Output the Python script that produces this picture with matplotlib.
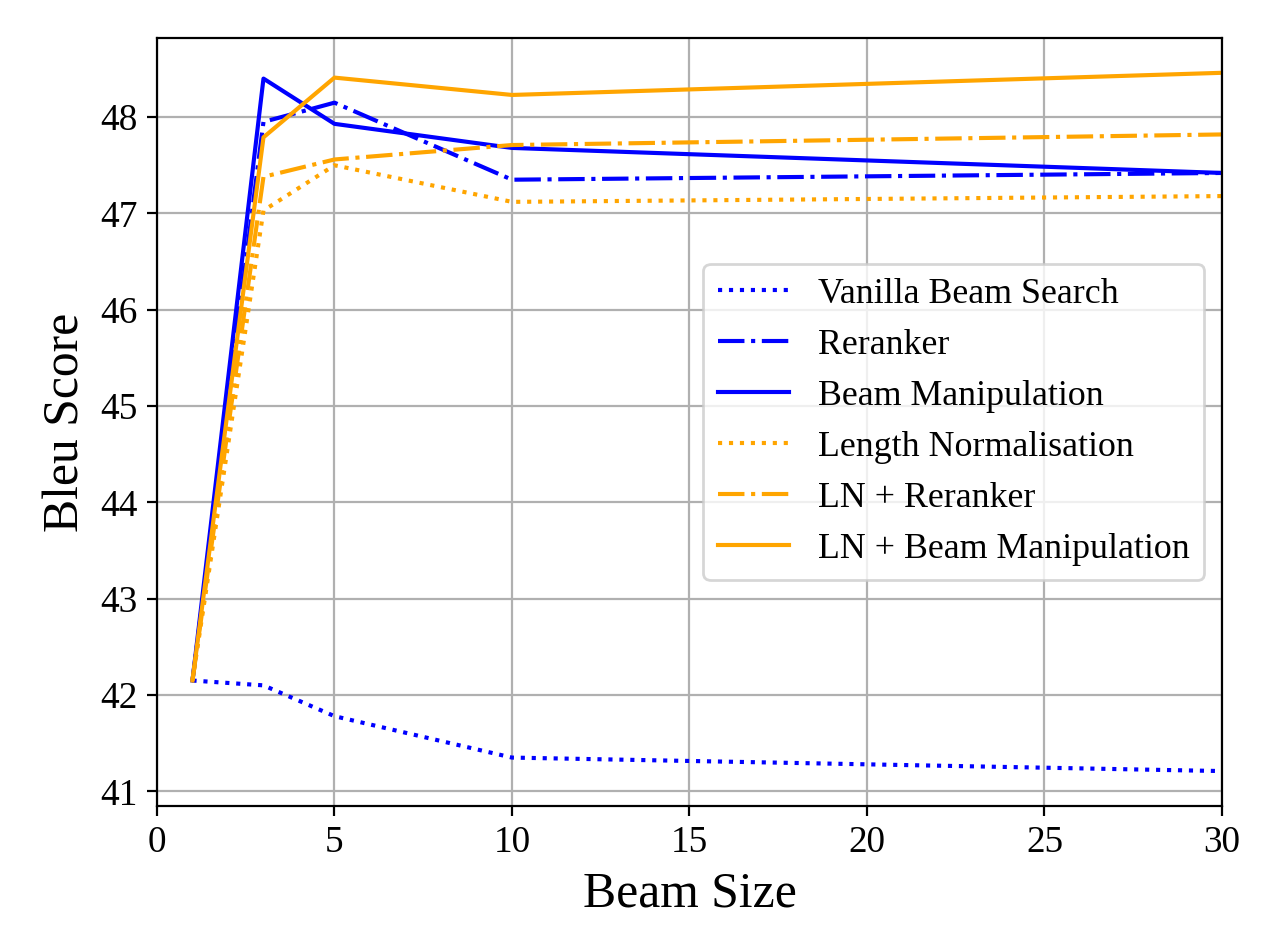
import matplotlib
matplotlib.use("Agg")
from matplotlib import pyplot as plt

beam_sizes = [1, 3, 5, 10, 30]

vanilla = [42.15, 42.10, 41.78, 41.35, 41.21]
reranker = [42.15, 47.95, 48.15, 47.35, 47.42]
beam_manip = [42.15, 48.40, 47.93, 47.68, 47.42]
length_norm = [42.15, 47.03, 47.50, 47.12, 47.18]
ln_reranker = [42.15, 47.38, 47.56, 47.71, 47.82]
ln_beam_manip = [42.15, 47.79, 48.41, 48.23, 48.46]

plt.rcParams['font.family'] = ['Liberation Serif', 'DejaVu Serif']

fig = plt.figure(figsize=(6.4, 4.7775), dpi=198.4375)
ax = fig.add_axes([0.1236, 0.1498, 0.8386, 0.8102])

ax.plot(beam_sizes, vanilla, "b:", label="Vanilla Beam Search")
ax.plot(beam_sizes, reranker, "b-.", label="Reranker")
ax.plot(beam_sizes, beam_manip, "b-", label="Beam Manipulation")
ax.plot(beam_sizes, length_norm, ":", color="orange", label="Length Normalisation")
ax.plot(beam_sizes, ln_reranker, "-.", color="orange", label="LN + Reranker")
ax.plot(beam_sizes, ln_beam_manip, "-", color="orange", label="LN + Beam Manipulation")

ax.set_xlim(0, 30)
ax.grid()
ax.tick_params(labelsize=13.5)
ax.set_xlabel("Beam Size", fontsize=18)
ax.set_ylabel("Bleu Score", fontsize=18)
ax.legend(loc="center right", fontsize=13)

fig.savefig("out.png", dpi=198.4375)
